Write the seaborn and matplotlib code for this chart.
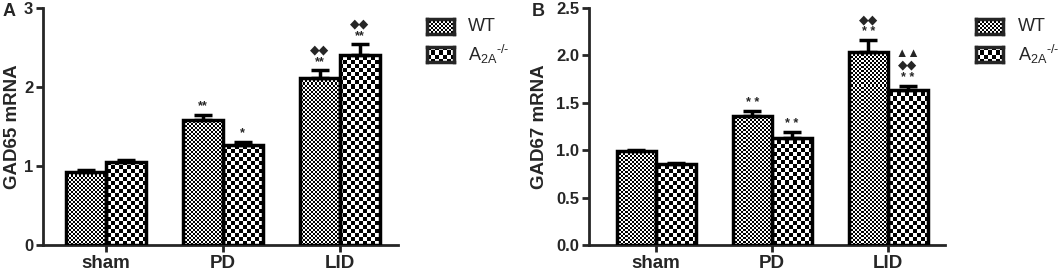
import numpy as np
import pandas as pd
import seaborn as sns
import matplotlib.pyplot as plt

# data (mean, SEM)
groups = ['sham', 'PD', 'LID']
genotypes = ['WT', 'A2A']

gad65_wt = [0.93, 1.58, 2.12]
gad65_wt_err = [0.02, 0.07, 0.09]
gad65_a2a = [1.05, 1.26, 2.41]
gad65_a2a_err = [0.03, 0.05, 0.13]

gad67_wt = [0.99, 1.36, 2.04]
gad67_wt_err = [0.01, 0.05, 0.12]
gad67_a2a = [0.85, 1.13, 1.64]
gad67_a2a_err = [0.02, 0.06, 0.04]

# significance marks, listed bottom-up
marks65_wt = [[], ['**'], ['**', '◆◆']]
marks65_a2a = [[], ['*'], ['**', '◆◆']]
marks67_wt = [[], ['* *'], ['* *', '◆◆']]
marks67_a2a = [[], ['* *'], ['* *', '◆◆', '▲▲']]

legend_labels = ['WT', r'A$_{2A}{}^{\text{-/-}}$']

W, H = 1061, 273
FONT = ['Liberation Sans', 'DejaVu Sans']


def checker(h, w, c):
    yy, xx = np.mgrid[0:h, 0:w]
    return ((yy // c + xx // c) % 2).astype(float)


def make_df(wt, wt_err, a2a, a2a_err):
    return pd.DataFrame({
        'group': groups * 2,
        'genotype': [genotypes[0]] * 3 + [genotypes[1]] * 3,
        'value': wt + a2a,
        'err': wt_err + a2a_err,
    })


def panel(fig, rect_px, df, marks, ylim, yticks, yfmt, ylabel, xlim, labelpad):
    l, t, w, h = rect_px
    ax = fig.add_axes([l / W, 1 - (t + h) / H, w / W, h / H])
    sns.barplot(data=df, x='group', y='value', hue='genotype', order=groups,
                hue_order=genotypes, palette=['white', 'white'], width=0.68,
                errorbar=None, legend=False, ax=ax)
    ax.set_xlim(*xlim)
    ax.set_ylim(*ylim)

    bars = [p for p in ax.patches][:6]
    cells = [2] * 3 + [4] * 3
    xs = []
    for patch, c in zip(bars, cells):
        img = ax.imshow(checker(h, w, c), cmap='gray', vmin=0, vmax=1,
                        extent=(*xlim, *ylim), origin='lower', aspect='auto',
                        interpolation='nearest', zorder=1.5)
        img.set_clip_path(patch)
        patch.set_facecolor('none')
        patch.set_edgecolor('black')
        patch.set_linewidth(2.5)
        patch.set_zorder(3)
        xs.append(patch.get_x() + patch.get_width() / 2)
    ax.set_xlim(*xlim)
    ax.set_ylim(*ylim)

    vals = df['value'].values
    errs = df['err'].values
    ax.errorbar(xs, vals, yerr=[np.zeros_like(errs), errs], fmt='none',
                ecolor='black', elinewidth=2.5, capsize=6.5, capthick=2.5, zorder=2.5)
    for x, v, e, m in zip(xs, vals, errs, marks):
        for i, line in enumerate(m):
            ax.annotate(line, (x, v + e), xytext=(0, 1.5 + 8.5 * i), textcoords='offset points',
                        ha='center', va='bottom', fontsize=9, fontweight='bold',
                        family=FONT)

    ax.set_yticks(yticks)
    ax.set_yticklabels([yfmt.format(v) for v in yticks], fontsize=12,
                       fontweight='bold', family=FONT)
    ax.set_xticks(range(len(groups)))
    ax.set_xticklabels(groups, fontsize=13.5, fontweight='bold', family=FONT)
    ax.set_xlabel('')
    ax.set_ylabel(ylabel, fontsize=13.5, fontweight='bold', family=FONT, labelpad=labelpad)
    sns.despine(ax=ax)
    for s in ['left', 'bottom']:
        ax.spines[s].set_linewidth(2)
    ax.tick_params(width=2, length=5, pad=2)
    return ax


def legend_swatches(fig, x0, text_x):
    for (y0, c, lab) in zip([19, 47], [2, 4], legend_labels):
        lw, lh = 27, 15
        sw = fig.add_axes([x0 / W, 1 - (y0 + lh) / H, lw / W, lh / H])
        sw.imshow(checker(lh, lw, c), cmap='gray', vmin=0, vmax=1,
                  aspect='auto', interpolation='nearest')
        sw.set_xticks([])
        sw.set_yticks([])
        for s in sw.spines.values():
            s.set_linewidth(2.5)
        fig.text(text_x / W, 1 - (y0 + lh / 2) / H, lab, fontsize=13,
                 va='center', ha='left', family=FONT)


sns.set_style('ticks')
plt.rcParams['font.family'] = FONT
plt.rcParams['mathtext.fontset'] = 'custom'
plt.rcParams['mathtext.rm'] = 'Liberation Sans'
plt.rcParams['mathtext.default'] = 'regular'

fig = plt.figure(figsize=(W / 100, H / 100), dpi=100)

df65 = make_df(gad65_wt, gad65_wt_err, gad65_a2a, gad65_a2a_err)
df67 = make_df(gad67_wt, gad67_wt_err, gad67_a2a, gad67_a2a_err)

panel(fig, (43, 8, 355, 237), df65, marks65_wt + marks65_a2a, (0, 3), [0, 1, 2, 3],
      '{:.0f}', 'GAD65 mRNA', (-0.538, 2.496), 2)
panel(fig, (589, 8, 356, 237), df67, marks67_wt + marks67_a2a, (0, 2.5),
      [0, 0.5, 1.0, 1.5, 2.0, 2.5], '{:.1f}', 'GAD67 mRNA', (-0.578, 2.49), 6)

legend_swatches(fig, 427, 468)
legend_swatches(fig, 976, 1018)

fig.text(3 / W, 1 - 3 / H, 'A', fontsize=13, fontweight='bold', va='top', ha='left')
fig.text(532 / W, 1 - 3 / H, 'B', fontsize=13, fontweight='bold', va='top', ha='left')

fig.savefig('out.png', dpi=100)
